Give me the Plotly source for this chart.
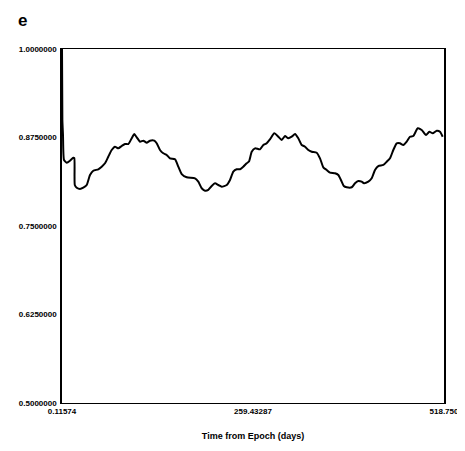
import plotly.graph_objects as go

# Data (time in days, value)
days = [0.116, 0.6, 1.47, 2.83, 6.50, 10.98, 15.46, 16.81, 17.49, 20.07, 24.55, 29.03, 33.65, 38.13,
        42.61, 49.40, 54.02, 58.50, 62.98, 67.59, 72.07, 76.55, 81.17, 85.65, 90.13, 94.75,
        98.28, 101.53, 106.01, 110.49, 115.11, 119.59, 125.43, 128.69, 133.17, 137.65, 142.27,
        146.75, 153.54, 158.02, 162.63, 169.42, 180.69, 185.17, 189.79, 194.27, 198.75, 203.37,
        207.85, 212.33, 216.94, 223.73, 228.21, 232.69, 237.31, 241.79, 246.27, 250.89, 254.0,
        257.67, 262.15, 268.94, 273.42, 278.04, 282.52, 288.36, 293.79, 298.40, 302.88, 307.36,
        311.98, 316.46, 320.94, 325.56, 330.04, 334.52, 339.13, 345.92, 350.40, 354.88, 359.50,
        363.98, 370.77, 375.25, 379.86, 382.71, 386.65, 393.44, 397.92, 402.40, 407.02, 410.14,
        415.98, 420.59, 425.07, 429.55, 436.34, 440.96, 445.44, 449.92, 454.54, 459.02, 463.50,
        468.12, 472.60, 477.08, 483.05, 488.48, 494.32, 498.80, 503.42, 508.85, 513.33, 516.99]
values = [1.0, 0.90, 0.8785, 0.8432, 0.8394, 0.8422, 0.8465, 0.8460, 0.8079, 0.8041, 0.8023, 0.8041,
          0.8079, 0.8220, 0.8281, 0.8301, 0.8338, 0.8386, 0.8479, 0.8573, 0.8620, 0.8597, 0.8630,
          0.8658, 0.8658, 0.8739, 0.8799, 0.8753, 0.8691, 0.8705, 0.8677, 0.8705, 0.8705, 0.8668,
          0.8573, 0.8527, 0.8503, 0.8456, 0.8442, 0.8338, 0.8234, 0.8188, 0.8174, 0.8126, 0.8033,
          0.7999, 0.8009, 0.8065, 0.8103, 0.8079, 0.8055, 0.8079, 0.8150, 0.8267, 0.8301, 0.8301,
          0.8338, 0.8386, 0.8411, 0.8549, 0.8597, 0.8583, 0.8644, 0.8668, 0.8725, 0.8809, 0.8761,
          0.8715, 0.8771, 0.8739, 0.8761, 0.8799, 0.8739, 0.8644, 0.8620, 0.8573, 0.8549, 0.8535,
          0.8456, 0.8329, 0.8291, 0.8253, 0.8244, 0.8220, 0.8126, 0.8065, 0.8047, 0.8047, 0.8103,
          0.8136, 0.8126, 0.8103, 0.8126, 0.8174, 0.8291, 0.8347, 0.8362, 0.8408, 0.8456, 0.8573,
          0.8668, 0.8668, 0.8644, 0.8691, 0.8761, 0.8771, 0.8880, 0.8856, 0.8785, 0.8832, 0.8809,
          0.8846, 0.8832, 0.8761]

x_ticks = [0.11574, 259.43287, 518.750]
x_tick_labels = ["0.11574", "259.43287", "518.750"]
y_ticks = [0.5, 0.625, 0.75, 0.875, 1.0]
y_tick_labels = ["0.5000000", "0.6250000", "0.7500000", "0.8750000", "1.0000000"]

FONT = "Liberation Sans Narrow, Liberation Sans, Arial"

fig = go.Figure()
fig.add_trace(go.Scatter(
    x=days, y=values, mode="lines",
    line=dict(color="black", width=2, shape="spline", smoothing=0.5),
    showlegend=False, hoverinfo="skip",
))

fig.update_layout(
    width=457, height=443,
    margin=dict(l=54, r=21, t=41, b=48),
    paper_bgcolor="white", plot_bgcolor="white",
    xaxis=dict(
        range=[0.11574, 518.75], tickvals=x_ticks, ticktext=x_tick_labels,
        showgrid=False, zeroline=False, showline=True, linecolor="black", linewidth=1,
        mirror=True, ticks="", automargin=False, ticklabeloverflow="allow",
        tickfont=dict(family=FONT, size=8, color="black", weight="bold"),
        title=dict(text="Time from Epoch (days)", standoff=18,
                   font=dict(family=FONT, size=9, color="black", weight="bold")),
    ),
    yaxis=dict(
        range=[0.5, 1.0], tickvals=y_ticks, ticktext=y_tick_labels,
        showgrid=False, zeroline=False, showline=True, linecolor="black", linewidth=1.5,
        mirror=True, ticks="", ticklabelstandoff=2, automargin=False,
        tickfont=dict(family=FONT, size=8, color="black", weight="bold"),
    ),
    annotations=[dict(
        text="e", xref="paper", yref="paper", x=-0.12, y=1.113, xanchor="left", yanchor="top",
        showarrow=False, font=dict(family=FONT, size=17, color="black", weight="bold"),
    )],
)

fig.write_html("out.html")
